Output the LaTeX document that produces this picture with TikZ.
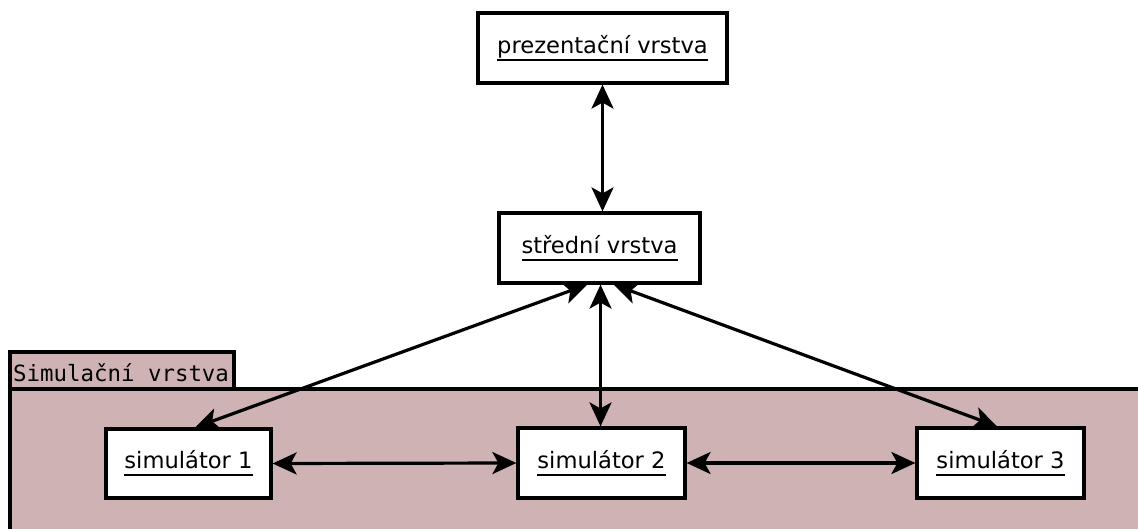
\documentclass[tikz,border=0pt]{standalone}
\usepackage{fontspec}
\setmainfont{DejaVu Sans}
\setmonofont{DejaVu Sans Mono}
\usetikzlibrary{arrows.meta,calc}
\definecolor{panelfill}{RGB}{207,179,180}
\newcommand{\ulbox}[1]{\setbox0\hbox{#1}\hbox{\rlap{\rule[-7.5pt]{\wd0}{1.8pt}}\box0}}
\tikzset{
  box/.style={draw=black,line width=3.2pt,fill=white,inner sep=0pt,font=\fontsize{22.6}{27}\selectfont},
  link/.style={line width=3.2pt,{Stealth[length=24pt,width=22pt,inset=6pt]}-{Stealth[length=24pt,width=22pt,inset=6pt]}},
  panel/.style={draw=black,line width=3.2pt,fill=panelfill}
}
\begin{document}
\begin{tikzpicture}[x=1pt,y=-1pt]
\useasboundingbox (0,0) rectangle (1138,529);
\clip (0,0) rectangle (1138,529);
% simulation layer panel
\draw[panel] (10,352) rectangle (234,389);
\draw[panel] (10,389) rectangle (1150,545);
\node[anchor=west,inner sep=0pt,font=\ttfamily\fontsize{22.4}{27}\selectfont] (simlabel) at (13,373) {Simulační vrstva};
% boxes
\node[box,minimum width=249pt,minimum height=70pt] (pres) at (602.5,48) {\ulbox{prezentační vrstva}};
\node[box,minimum width=201pt,minimum height=70pt] (mid) at (599.5,248) {\ulbox{střední vrstva}};
\node[box,minimum width=165pt,minimum height=69pt] (s1) at (188.5,463.5) {\ulbox{simulátor 1}};
\node[box,minimum width=167pt,minimum height=70pt] (s2) at (601.5,463) {\ulbox{simulátor 2}};
\node[box,minimum width=167pt,minimum height=70pt] (s3) at (1000.5,463) {\ulbox{simulátor 3}};
% connector end points
\coordinate (mL) at ($(mid.south west)!0.44!(mid.south east)$);
\coordinate (mC) at ($(mid.south west)!0.505!(mid.south east)$);
\coordinate (mR) at ($(mid.south west)!0.57!(mid.south east)$);
\coordinate (s1t) at ($(s1.north west)!0.54!(s1.north east)$);
\coordinate (s3t) at ($(s3.north west)!0.48!(s3.north east)$);
% connectors
\draw[link] (pres.south) -- (pres.south |- mid.north);
\draw[link] (mL) -- (s1t);
\draw[link] (mC) -- (mC |- s2.north);
\draw[link] (mR) -- (s3t);
\draw[link] (s1.east) -- (s2.west);
\draw[link] (s2.east) -- (s3.west);
\end{tikzpicture}
\end{document}
